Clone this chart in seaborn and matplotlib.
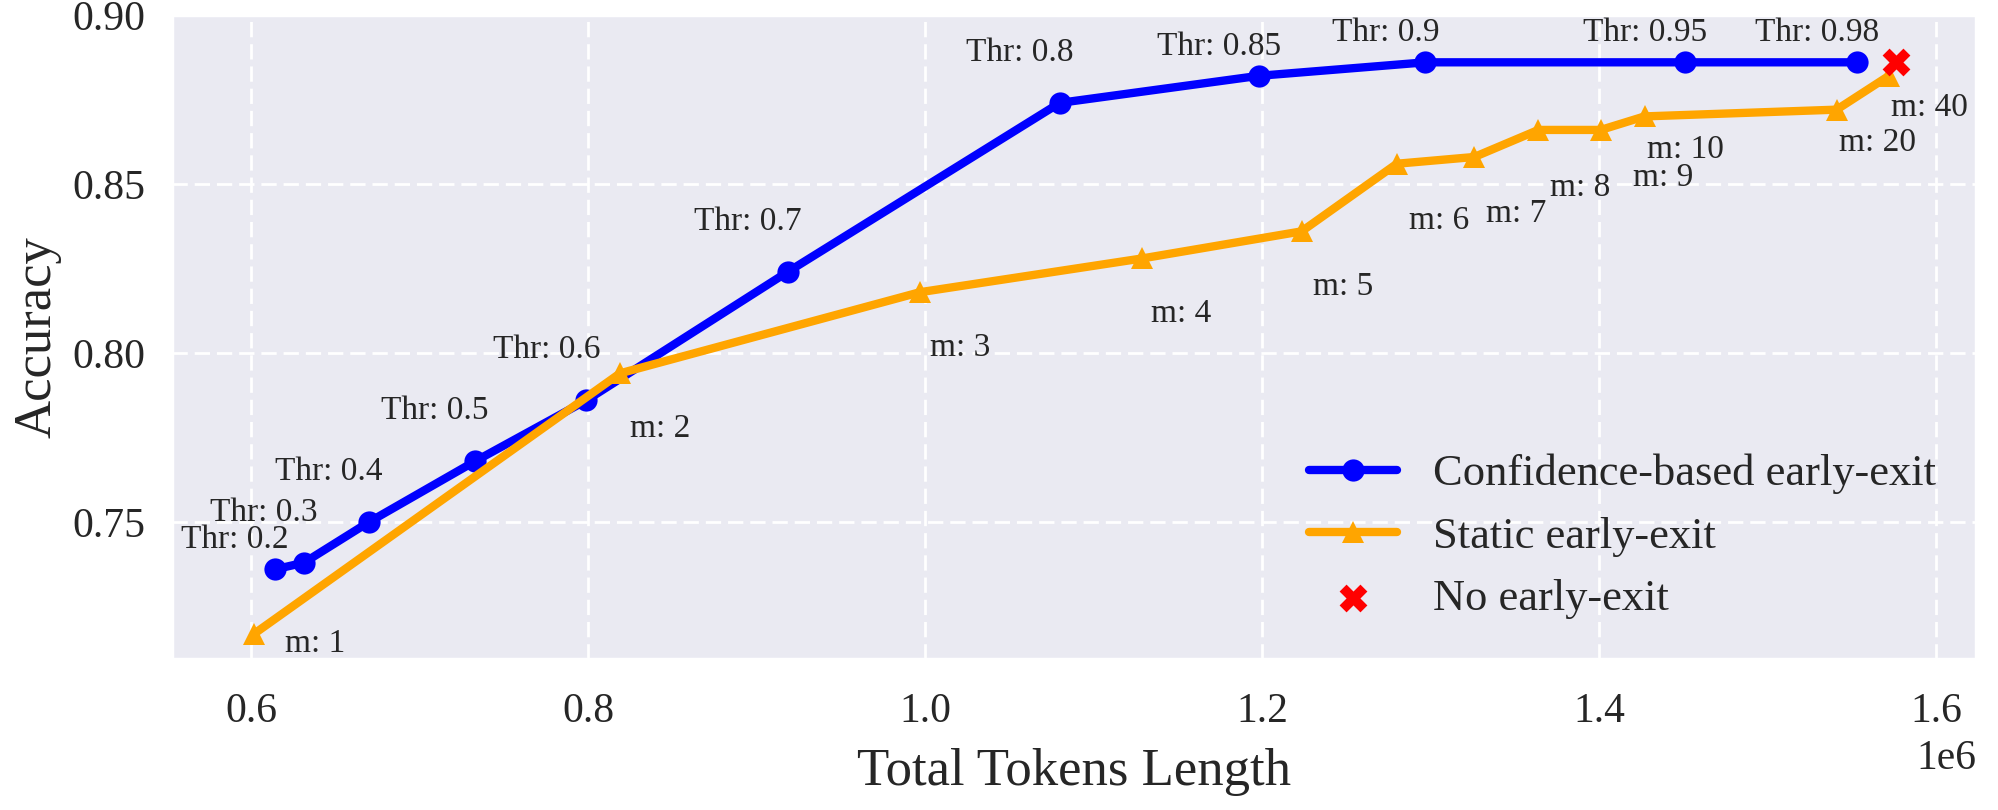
import numpy as np
import pandas as pd
import matplotlib
matplotlib.use("Agg")
import matplotlib.pyplot as plt
from matplotlib.ticker import MultipleLocator, FormatStrFormatter
import seaborn as sns

# values
conf_thr = [0.2, 0.3, 0.4, 0.5, 0.6, 0.7, 0.8, 0.85, 0.9, 0.95, 0.98]
conf_tokens = [614000, 631500, 670000, 733000, 799000, 918500,
               1080000, 1198000, 1297000, 1451000, 1553000]
conf_acc = [0.736, 0.738, 0.750, 0.768, 0.786, 0.824,
            0.874, 0.882, 0.886, 0.886, 0.886]

static_m = [1, 2, 3, 4, 5, 6, 7, 8, 9, 10, 20, 40]
static_tokens = [602000, 819000, 997000, 1129000, 1223500, 1280000,
                 1326000, 1364000, 1401000, 1427000, 1541000, 1572000]
static_acc = [0.717, 0.794, 0.818, 0.828, 0.836, 0.856,
              0.858, 0.866, 0.866, 0.870, 0.872, 0.882]

full_tokens = [1576000]
full_acc = [0.886]

# label placement (pixels from the point)
conf_label_off = [(-40, 21), (-40, 42), (-40, 42), (-40, 42), (-40, 42), (-40, 42),
                  (-40, 42), (-40, 21), (-40, 21), (-40, 21), (-40, 21)]
static_label_off = [(31, -18), (10, -64), (10, -64), (9, -64), (11, -64), (12, -65),
                    (12, -65), (12, -66), (32, -56), (2, -42), (2, -41), (2, -40)]

conf_df = pd.DataFrame({"tokens": conf_tokens, "acc": conf_acc})
static_df = pd.DataFrame({"tokens": static_tokens, "acc": static_acc})

sns.set_theme(style="darkgrid", rc={"grid.color": "white"})
plt.rcParams["font.family"] = ["Liberation Serif", "DejaVu Serif"]

fig, ax = plt.subplots(figsize=(9.995, 4.05), dpi=200)
fig.subplots_adjust(left=0.086, right=0.9885, top=0.9815, bottom=0.1864)

sns.lineplot(data=conf_df, x="tokens", y="acc", ax=ax, color="blue", linewidth=3,
             marker="o", markersize=8, markeredgewidth=0,
             label="Confidence-based early-exit")
sns.lineplot(data=static_df, x="tokens", y="acc", ax=ax, color="orange", linewidth=3,
             marker="^", markersize=8, markeredgewidth=0,
             label="Static early-exit")
sns.scatterplot(x=full_tokens, y=full_acc, ax=ax, color="red", marker="X",
                s=100, linewidth=0, label="No early-exit", zorder=3)

for x, y, t, (dx, dy) in zip(conf_tokens, conf_acc, conf_thr, conf_label_off):
    ax.annotate(f"Thr: {t}", (x, y), xytext=(dx, dy), textcoords="offset pixels",
                ha="center", va="baseline", fontsize=12)
for x, y, m, (dx, dy) in zip(static_tokens, static_acc, static_m, static_label_off):
    ax.annotate(f"m: {m}", (x, y), xytext=(dx, dy), textcoords="offset pixels",
                ha="left", va="baseline", fontsize=12)

ax.grid(True, color="white", linewidth=1.0, linestyle=(0, (5.5, 2.5)))

ax.set_xlim(553100, 1623700)
ax.set_ylim(0.7095, 0.90)
ax.xaxis.set_major_locator(MultipleLocator(200000))
ax.yaxis.set_major_locator(MultipleLocator(0.05))
ax.yaxis.set_major_formatter(FormatStrFormatter("%.2f"))
ax.tick_params(labelsize=15)
ax.tick_params(axis="x", pad=6)
ax.xaxis.get_offset_text().set_fontsize(15)

ax.set_xlabel("Total Tokens Length", fontsize=19, labelpad=6)
ax.set_ylabel("Accuracy", fontsize=19)

ax.legend(loc="lower right", frameon=False, fontsize=16)

fig.savefig("out.png", dpi=200)
